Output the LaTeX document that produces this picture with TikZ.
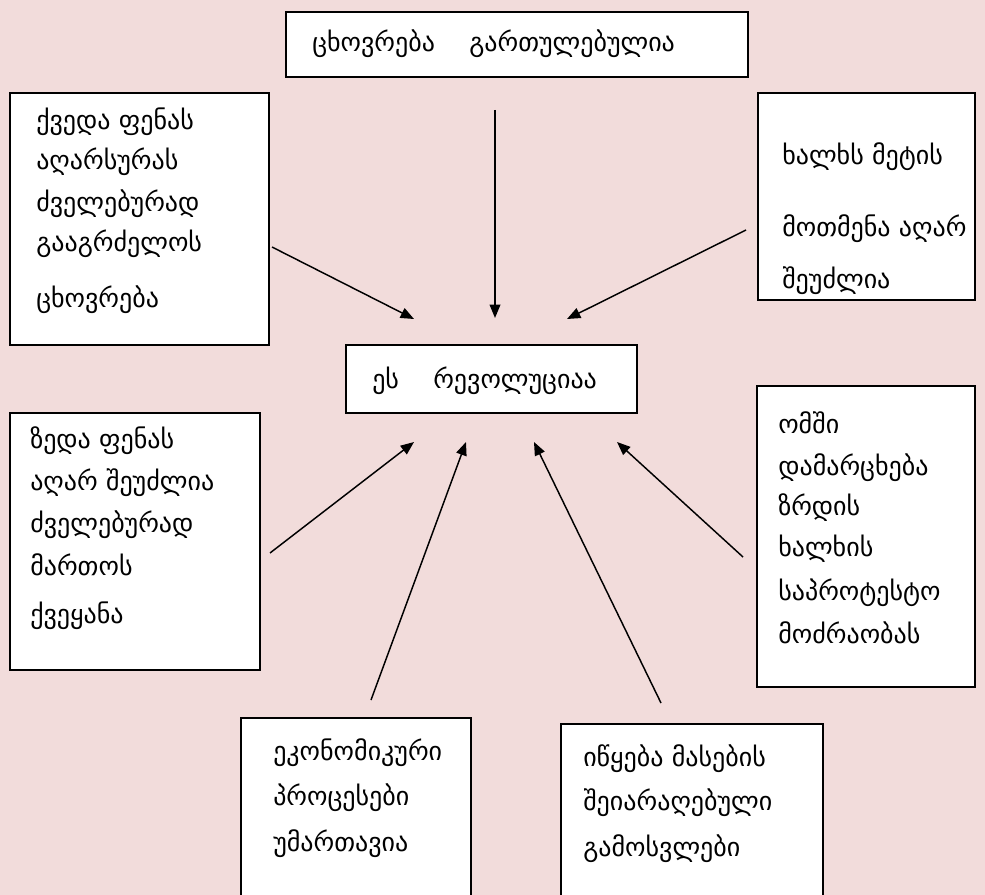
\documentclass[tikz,border=0pt]{standalone}
\usepackage{fontspec}
\setmainfont{DejaVu Sans}
\usetikzlibrary{arrows.meta,fit}
\definecolor{bgpink}{HTML}{F2DCDB}
\begin{document}
\begin{tikzpicture}[x=0.75pt,y=-0.75pt,
  box/.style={draw=black, line width=1.1pt, fill=white, inner sep=0pt},
  txt/.style={anchor=base west, inner sep=0pt, font=\fontsize{19.5}{23}\selectfont},
  arr/.style={line width=1.1pt, -{Triangle[length=10pt,width=8pt]}}]
\fill[bgpink] (0,0) rectangle (985,895);
\useasboundingbox (0,0) rectangle (985,895);

% boxes
\node[box, fit={(286,12) (748,77)}] (top) {};
\node[box, fit={(10,93) (269,345)}] (tl) {};
\node[box, fit={(758,93) (975,300)}] (tr) {};
\node[box, fit={(346,345) (637,413)}] (mid) {};
\node[box, fit={(10,413) (260,670)}] (lb) {};
\node[box, fit={(757,386) (975,687)}] (rb) {};
\node[box, fit={(241,718) (471,900)}] (bl) {};
\node[box, fit={(561,724) (823,900)}] (br) {};

% texts
\node[txt] (t1) at (312,52) {ცხოვრება\quad\ გართულებულია};

\node[txt] (tl1) at (36,130) {ქვედა ფენას};
\node[txt] (tl2) at (36,170) {აღარსურას};
\node[txt] (tl3) at (36,211) {ძველებურად};
\node[txt] (tl4) at (36,251) {გააგრძელოს};
\node[txt] (tl5) at (36,307) {ცხოვრება};

\node[txt] (tr1) at (782,165) {ხალხს მეტის};
\node[txt] (tr2) at (782,236) {მოთმენა აღარ};
\node[txt] (tr3) at (782,288) {შეუძლია};

\node[txt] (m1) at (372,388) {ეს\quad\ რევოლუციაა};

\node[txt] (lb1) at (30,448) {ზედა ფენას};
\node[txt] (lb2) at (30,490) {აღარ შეუძლია};
\node[txt] (lb3) at (30,532) {ძველებურად};
\node[txt] (lb4) at (30,575) {მართოს};
\node[txt] (lb5) at (30,623) {ქვეყანა};

\node[txt] (rb1) at (778,433) {ომში};
\node[txt] (rb2) at (778,475) {დამარცხება};
\node[txt] (rb3) at (778,515) {ზრდის};
\node[txt] (rb4) at (778,556) {ხალხის};
\node[txt] (rb5) at (778,600) {საპროტესტო};
\node[txt] (rb6) at (778,643) {მოძრაობას};

\node[txt] (bl1) at (273,760) {ეკონომიკური};
\node[txt] (bl2) at (273,805) {პროცესები};
\node[txt] (bl3) at (273,851) {უმართავია};

\node[txt] (br1) at (583,766) {იწყება მასების};
\node[txt] (br2) at (583,810) {შეიარაღებული};
\node[txt] (br3) at (583,856) {გამოსვლები};

% arrow ends
\coordinate (a1s) at (495,110); \coordinate (a1e) at (495,318);
\coordinate (a2s) at (272,247); \coordinate (a2e) at (414,319);
\coordinate (a3s) at (746,230); \coordinate (a3e) at (567,319);
\coordinate (a4s) at (270,553); \coordinate (a4e) at (414,442);
\coordinate (a5s) at (371,700); \coordinate (a5e) at (466,442);
\coordinate (a6s) at (661,703); \coordinate (a6e) at (534,442);
\coordinate (a7s) at (743,557); \coordinate (a7e) at (617,442);

\draw[arr] (a1s) -- (a1e);
\draw[arr] (a2s) -- (a2e);
\draw[arr] (a3s) -- (a3e);
\draw[arr] (a4s) -- (a4e);
\draw[arr] (a5s) -- (a5e);
\draw[arr] (a6s) -- (a6e);
\draw[arr] (a7s) -- (a7e);
\end{tikzpicture}
\end{document}
